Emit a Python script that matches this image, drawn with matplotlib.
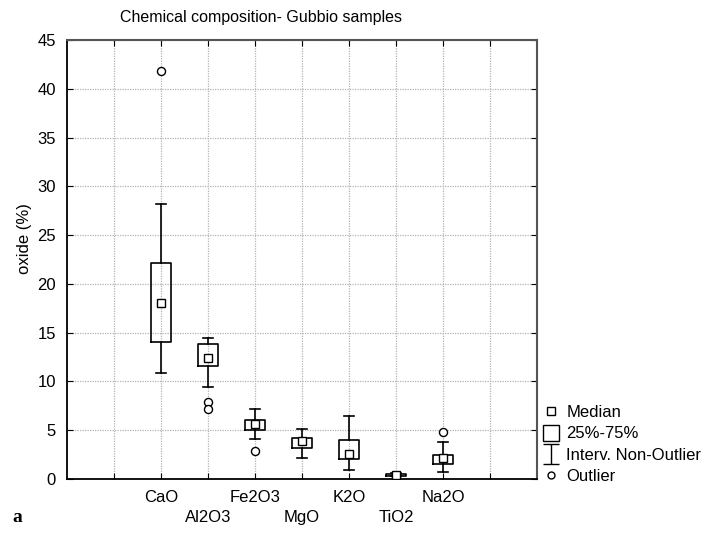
import matplotlib
matplotlib.use("Agg")
import matplotlib.pyplot as plt
from matplotlib.lines import Line2D
from matplotlib.path import Path
from matplotlib.transforms import ScaledTranslation

plt.rcParams["font.family"] = ["Liberation Sans", "DejaVu Sans"]

oxides = ["CaO", "Al2O3", "Fe2O3", "MgO", "K2O", "TiO2", "Na2O"]
positions = [2, 3, 4, 5, 6, 7, 8]
medians = [18.0, 12.4, 5.6, 3.9, 2.6, 0.45, 2.2]
q1 = [14.0, 11.55, 5.0, 3.15, 2.1, 0.35, 1.5]
q3 = [22.1, 13.8, 6.05, 4.25, 4.0, 0.55, 2.5]
whisker_low = [10.9, 9.45, 4.15, 2.15, 0.9, 0.3, 0.7]
whisker_high = [28.2, 14.5, 7.2, 5.15, 6.5, 0.65, 3.75]
outliers = [[41.8], [7.85, 7.15], [2.85], [], [], [0.2], [4.8]]

y_ticks = [0, 5, 10, 15, 20, 25, 30, 35, 40, 45]


def whisker_marker():
    # small I-beam glyph for the non-outlier range entry
    verts = [(-0.8, 1), (0.8, 1), (0, 1), (0, -1), (-0.8, -1), (0.8, -1)]
    codes = [Path.MOVETO, Path.LINETO, Path.MOVETO, Path.LINETO,
             Path.MOVETO, Path.LINETO]
    return Path(verts, codes)


def main():
    fig = plt.figure(figsize=(7.15, 5.33), dpi=100)
    ax = fig.add_axes([0.0937, 0.1013, 0.6573, 0.8237])

    stats = []
    for i, name in enumerate(oxides):
        stats.append({
            "label": name,
            "med": medians[i],
            "q1": q1[i],
            "q3": q3[i],
            "whislo": whisker_low[i],
            "whishi": whisker_high[i],
            "fliers": outliers[i],
        })

    ax.bxp(stats, positions=positions, widths=0.43, showfliers=True,
           boxprops=dict(color="black", linewidth=1.2),
           whiskerprops=dict(color="black", linewidth=1.2),
           capprops=dict(color="black", linewidth=1.2),
           capwidths=0.2,
           medianprops=dict(linewidth=0, alpha=0),
           flierprops=dict(marker="o", markersize=5.8, markerfacecolor="white",
                           markeredgecolor="black", markeredgewidth=1.0),
           manage_ticks=False, zorder=3)
    ax.plot(positions, medians, linestyle="none", marker="s", markersize=5.8,
            markerfacecolor="white", markeredgecolor="black",
            markeredgewidth=1.0, zorder=4)

    ax.set_xlim(0, 10)
    ax.set_ylim(0, 45)
    ax.set_yticks(y_ticks)
    ax.set_xticks(range(1, 10))
    ax.set_xticklabels([""] + oxides + [""])
    ax.tick_params(direction="in", length=4, top=True, right=True,
                   labelsize=12, colors="black", pad=8)

    # stagger the category labels on two rows
    shift = ScaledTranslation(0, -0.2, fig.dpi_scale_trans)
    for k, lab in enumerate(ax.get_xticklabels()):
        if k % 2 == 0:
            lab.set_transform(lab.get_transform() + shift)

    ax.grid(True, linestyle=(0, (1, 1)), color="#b4b4b4", linewidth=0.9)
    ax.set_axisbelow(True)
    for side in ["left", "bottom"]:
        ax.spines[side].set_linewidth(1.3)
        ax.spines[side].set_color("black")
    for side in ["top", "right"]:
        ax.spines[side].set_linewidth(1.5)
        ax.spines[side].set_color("#555555")

    fig.text(0.168, 0.968, "Chemical composition- Gubbio samples",
             fontsize=11.5, ha="left", va="center")
    fig.text(0.034, 0.553, "oxide (%)", fontsize=12, rotation=90,
             ha="center", va="center")
    fig.text(0.018, 0.03, "a", fontsize=14, fontweight="bold",
             family=["Liberation Serif", "DejaVu Serif"], ha="left",
             va="center")

    handles = [
        Line2D([], [], linestyle="none", marker="s", markersize=6,
               markerfacecolor="white", markeredgecolor="black"),
        Line2D([], [], linestyle="none", marker="s", markersize=11,
               markerfacecolor="white", markeredgecolor="black"),
        Line2D([], [], linestyle="none", marker=whisker_marker(),
               markersize=14, markerfacecolor="none",
               markeredgecolor="black", markeredgewidth=1.0),
        Line2D([], [], linestyle="none", marker="o", markersize=5,
               markerfacecolor="white", markeredgecolor="black"),
    ]
    fig.legend(handles, ["Median", "25%-75%", "Interv. Non-Outlier", "Outlier"],
               loc="upper left", bbox_to_anchor=(0.757, 0.24), frameon=False,
               fontsize=12, handlelength=1.2, handletextpad=0.3,
               labelspacing=0.38, borderaxespad=0, borderpad=0)

    fig.savefig("out.png", dpi=100)


if __name__ == "__main__":
    main()
